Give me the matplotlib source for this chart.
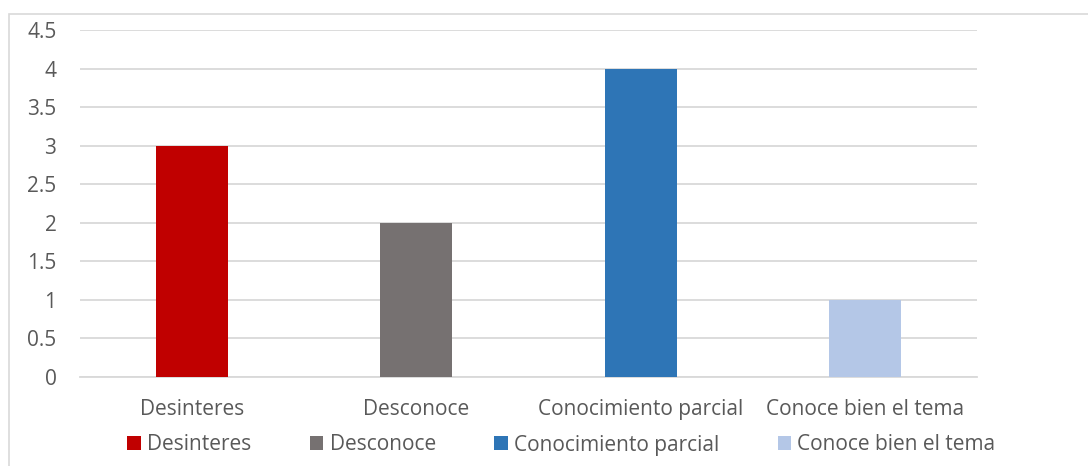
import matplotlib.pyplot as plt
from matplotlib.patches import Patch, Rectangle

categories = ["Desinteres", "Desconoce", "Conocimiento parcial", "Conoce bien el tema"]
values = [3, 2, 4, 1]
colors = ["#C00000", "#767171", "#2E75B6", "#B4C7E7"]
yticks = [0, 0.5, 1, 1.5, 2, 2.5, 3, 3.5, 4, 4.5]

textColor = "#595959"
gridColor = "#D9D9D9"
fontName = "Open Sans"
fontSize = 15

W, H = 1088, 466
fig = plt.figure(figsize=(W / 100, H / 100), dpi=100)
ax = fig.add_axes([80 / W, (H - 377) / H, (977 - 80) / W, (377 - 30) / H])

x = list(range(len(categories)))
ax.bar(x, values, width=0.32, color=colors, zorder=3)

ax.set_xlim(-0.5, len(categories) - 0.5)
ax.set_ylim(0, 4.5)
ax.set_yticks(yticks)
ax.set_yticklabels([("%g" % v) for v in yticks])
ax.set_xticks(x)
ax.set_xticklabels(categories)

ax.grid(axis="y", color=gridColor, linewidth=1.3, zorder=0)
for s in ["top", "right", "left"]:
    ax.spines[s].set_visible(False)
ax.spines["bottom"].set_color(gridColor)
ax.spines["bottom"].set_linewidth(1.3)
ax.tick_params(axis="y", length=0, pad=17, labelcolor=textColor, labelsize=fontSize)
ax.tick_params(axis="x", length=0, pad=16, labelcolor=textColor, labelsize=fontSize)
for lab in ax.get_xticklabels() + ax.get_yticklabels():
    lab.set_fontfamily(fontName)

# legend along the bottom
handles = [Patch(facecolor=c, edgecolor="none") for c in colors]
fig.legend(handles, categories, loc="center", bbox_to_anchor=(561.5 / W, (H - 445) / H),
           ncol=4, frameon=False, handlelength=0.65, handleheight=0.65, handletextpad=0.3,
           columnspacing=2.8, prop={"family": fontName, "size": fontSize}, labelcolor=textColor)

# chart border (cut at the right and bottom)
fig.patches.append(Rectangle((9 / W, -0.1), 1.2, (H - 14) / H + 0.1, transform=fig.transFigure,
                             fill=False, edgecolor=gridColor, linewidth=1.2))

fig.savefig("out.png", dpi=100, facecolor="white")
